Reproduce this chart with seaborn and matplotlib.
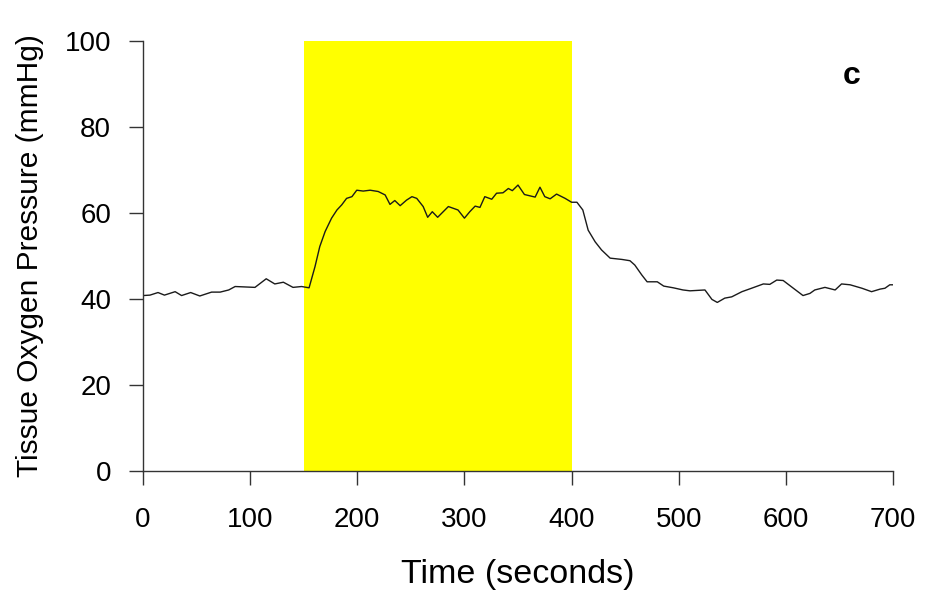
import matplotlib
matplotlib.use("Agg")
import matplotlib.pyplot as plt
import pandas as pd
import seaborn as sns

# Time (s) and tissue oxygen pressure (mmHg)
time_s = [0, 6.5, 14, 20, 30, 36, 44.5, 53, 64, 72, 80, 86, 104.5, 115, 123, 131,
          140, 148, 155, 160.5, 165, 170, 176, 181, 185.5, 190, 195, 199.5, 205.5,
          212, 219.5, 226, 230.5, 235, 240, 246, 251, 255.5, 261.5, 265.7, 270, 275,
          285, 294, 300, 305, 310, 314.5, 319, 325.5, 330, 336, 341, 344.7, 350,
          356, 366, 370.5, 375, 380, 386, 394, 400, 405, 410.5, 415.5, 422, 428,
          436, 447, 454.5, 459, 465.5, 470.5, 480, 486, 495, 504, 510.5, 524.5,
          531, 536, 543, 549.5, 559, 568, 579, 585, 591.5, 597.5, 607, 616, 622.5,
          627, 636.5, 646, 652, 660, 671, 680, 688, 692.5, 697, 700]
po2 = [40.8, 40.9, 41.5, 40.9, 41.7, 40.8, 41.5, 40.7, 41.6, 41.6, 42.1, 42.9,
       42.7, 44.7, 43.5, 43.9, 42.7, 42.9, 42.6, 47.5, 52.2, 55.7, 58.8, 60.7,
       61.9, 63.4, 63.8, 65.3, 65.1, 65.3, 65.0, 64.2, 62.0, 62.9, 61.7, 63.0,
       63.8, 63.4, 61.5, 59.0, 60.3, 59.0, 61.5, 60.7, 58.8, 60.3, 61.6, 61.3,
       63.8, 63.2, 64.6, 64.7, 65.7, 65.2, 66.5, 64.3, 63.7, 66.0, 63.8, 63.3,
       64.4, 63.4, 62.5, 62.5, 60.7, 56.0, 53.3, 51.4, 49.5, 49.2, 48.9, 47.9,
       45.6, 44.0, 44.0, 43.0, 42.6, 42.1, 41.9, 42.1, 39.9, 39.2, 40.2, 40.5,
       41.7, 42.5, 43.5, 43.4, 44.4, 44.3, 42.5, 40.8, 41.3, 42.1, 42.7, 42.1,
       43.5, 43.3, 42.5, 41.7, 42.3, 42.5, 43.3, 43.3]
stim_start, stim_end = 150, 400

df = pd.DataFrame({"time": time_s, "po2": po2})

sns.set_style("ticks")
plt.rcParams["font.family"] = ["Liberation Sans", "DejaVu Sans"]
plt.rcParams["text.color"] = "black"
plt.rcParams["axes.labelcolor"] = "black"

fig = plt.figure(figsize=(9.25, 5.97), dpi=100)
ax = fig.add_axes([0.1546, 0.2111, 0.8108, 0.7202])

ax.axvspan(stim_start, stim_end, ymin=0, ymax=1, color="#ffff00", lw=0, zorder=0)
sns.lineplot(data=df, x="time", y="po2", ax=ax, color="#1a1a1a", lw=1.0, zorder=2)

ax.set_xlim(0, 700)
ax.set_ylim(0, 100)
ax.set_xticks(range(0, 701, 100))
ax.set_yticks(range(0, 101, 20))
ax.tick_params(labelsize=20, length=10, width=1, color="#333333", labelcolor="black")
ax.tick_params(axis="x", pad=16)
ax.tick_params(axis="y", pad=13)
ax.set_xlabel("Time (seconds)", fontsize=24.5, labelpad=19)
ax.set_ylabel("Tissue Oxygen Pressure (mmHg)", fontsize=21.5, labelpad=15)
for s in ["top", "right"]:
    ax.spines[s].set_visible(False)
for s in ["left", "bottom"]:
    ax.spines[s].set_color("#333333")
    ax.spines[s].set_linewidth(1)

ax.text(661.7, 91.9, "c", fontsize=23, fontweight="bold", ha="center", va="center")

fig.savefig("out.png", dpi=100)
